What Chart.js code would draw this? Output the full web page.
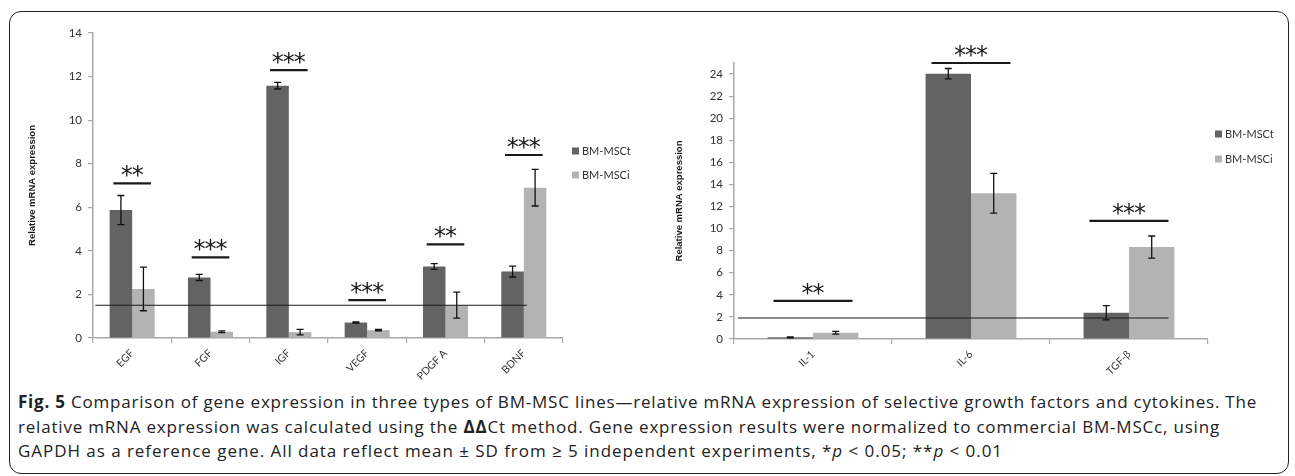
<!DOCTYPE html>
<html>
<head>
<meta charset="utf-8">
<script src="https://cdn.jsdelivr.net/npm/chart.js@4"></script>
<style>
  html, body { margin:0; padding:0; background:#fff; }
  body { width:1295px; height:476px; position:relative; overflow:hidden; }
  #frame { position:absolute; left:9px; top:11px; width:1280px; height:463px; border:1.5px solid #222; border-radius:12px; box-sizing:border-box; }
  #c1 { position:absolute; left:0; top:0; }
  #c2 { position:absolute; left:650px; top:0; }
  #caption { position:absolute; left:18px; top:390px; font-family:'Open Sans', sans-serif; font-size:17px; color:#222; line-height:24.5px; white-space:nowrap; }
  #caption div { white-space:nowrap; display:block; }
  #caption span.ln { display:inline-block; }
</style>
</head>
<body>
<div id="frame"></div>
<canvas id="c1" width="650" height="380"></canvas>
<canvas id="c2" width="645" height="380"></canvas>
<div id="caption">
  <div><span class="ln" data-w="1239"><b>Fig. 5</b> Comparison of gene expression in three types of BM-MSC lines—relative mRNA expression of selective growth factors and cytokines. The</span></div>
  <div><span class="ln" data-w="1202"><span>relative mRNA expression was calculated using the <b>ΔΔ</b>Ct method. Gene expression results were normalized to commercial BM-MSCc, using</span></span></div>
  <div><span class="ln" data-w="985">GAPDH as a reference gene. All data reflect mean ± SD from ≥ 5 independent experiments, *<i>p</i> &lt; 0.05; **<i>p</i> &lt; 0.01</span></div>
</div>
<script>
// ---------- data ----------
const seriesNames = ['BM-MSCt', 'BM-MSCi'];

const growthFactors = ['EGF', 'FGF', 'IGF', 'VEGF', 'PDGF A', 'BDNF'];
const gfMSCt   = [5.87, 2.78, 11.58, 0.71, 3.28, 3.05];
const gfMSCtSD = [0.67, 0.14, 0.15, 0.03, 0.13, 0.25];
const gfMSCi   = [2.25, 0.29, 0.27, 0.36, 1.51, 6.90];
const gfMSCiSD = [1.00, 0.04, 0.13, 0.03, 0.60, 0.84];
const gfSigMarks  = ['**', '***', '***', '***', '**', '***'];
const gfSigLevels = [7.1, 3.7, 12.3, 1.74, 4.3, 8.4];
const gfRefValue = 1.5;
const gfTicks = [0, 2, 4, 6, 8, 10, 12, 14];

const cytokines = ['IL-1', 'IL-6', 'TGF-β'];
const cyMSCt   = [0.15, 24.03, 2.38];
const cyMSCtSD = [0.04, 0.47, 0.65];
const cyMSCi   = [0.57, 13.2, 8.33];
const cyMSCiSD = [0.12, 1.8, 1.0];
const cySigMarks  = ['**', '***', '***'];
const cySigLevels = [3.45, 25.0, 10.7];
const cyRefValue = 1.9;
const cyTicks = [0, 2, 4, 6, 8, 10, 12, 14, 16, 18, 20, 22, 24];

// ---------- caption fit (styling only) ----------
document.querySelectorAll('#caption .ln').forEach(el => {
  const target = +el.dataset.w;
  const w = el.getBoundingClientRect().width;
  const n = el.textContent.length;
  el.style.letterSpacing = ((target - w) / n).toFixed(3) + 'px';
});

// ---------- style ----------
const DARK = '#636363';
const LIGHT = '#b3b3b3';
const AXIS = '#a8a8a8';
const TXT = '#333333';

const extrasPlugin = {
  id: 'extras',
  afterDatasetsDraw(chart, args, o) {
    const { ctx, scales: { x, y }, chartArea } = chart;
    ctx.save();
    chart.data.datasets.forEach((ds, di) => {
      const meta = chart.getDatasetMeta(di);
      meta.data.forEach((bar, i) => {
        const v = ds.data[i], sd = ds.errors[i];
        const yt = y.getPixelForValue(v + sd), yb = y.getPixelForValue(Math.max(0, v - sd));
        ctx.strokeStyle = '#111'; ctx.lineWidth = 1.3;
        ctx.beginPath();
        ctx.moveTo(bar.x, yt); ctx.lineTo(bar.x, yb);
        ctx.moveTo(bar.x - 3.5, yt); ctx.lineTo(bar.x + 3.5, yt);
        ctx.moveTo(bar.x - 3.5, yb); ctx.lineTo(bar.x + 3.5, yb);
        ctx.stroke();
      });
    });
    const catW = x.getPixelForValue(1) - x.getPixelForValue(0);
    const ry = y.getPixelForValue(o.refValue);
    ctx.strokeStyle = '#1a1a1a'; ctx.lineWidth = 1.1;
    ctx.beginPath();
    ctx.moveTo(x.getPixelForValue(0) + o.refFrom * catW, ry);
    ctx.lineTo(x.getPixelForValue(chart.data.labels.length - 1) + o.refTo * catW, ry);
    ctx.stroke();
    ctx.fillStyle = '#1a1a1a';
    ctx.font = o.starFont;
    const m = ctx.measureText('*');
    o.sigLevels.forEach((lvl, i) => {
      const cx = x.getPixelForValue(i);
      const ly = y.getPixelForValue(lvl);
      const hw = catW * o.sigWidth / 2;
      ctx.lineWidth = 2.2;
      ctx.beginPath(); ctx.moveTo(cx - hw, ly); ctx.lineTo(cx + hw, ly); ctx.stroke();
      const n = o.sigMarks[i].length;
      const centerY = ly - o.starGap;
      const baseY = centerY + (m.actualBoundingBoxAscent - m.actualBoundingBoxDescent) / 2;
      ctx.textAlign = 'center'; ctx.textBaseline = 'alphabetic';
      for (let k = 0; k < n; k++) {
        ctx.fillText('*', cx + (k - (n - 1) / 2) * o.starSpacing, baseY);
      }
    });
    ctx.font = '11px Lato';
    ctx.textAlign = 'left'; ctx.textBaseline = 'middle';
    chart.data.datasets.forEach((ds, di) => {
      const lx = chartArea.right + o.legendDX;
      const ly = o.legendY[di];
      ctx.fillStyle = ds.backgroundColor;
      ctx.fillRect(lx, ly - 3.5, 7, 7);
      ctx.fillStyle = TXT;
      ctx.fillText(ds.label, lx + 10, ly + 0.5);
    });
    ctx.restore();
  }
};

function makeChart(id, cfg) {
  return new Chart(document.getElementById(id), {
    type: 'bar',
    data: {
      labels: cfg.labels,
      datasets: [
        { label: seriesNames[0], data: cfg.t, errors: cfg.tSD, backgroundColor: DARK, categoryPercentage: 0.575, barPercentage: 1.0 },
        { label: seriesNames[1], data: cfg.i, errors: cfg.iSD, backgroundColor: LIGHT, categoryPercentage: 0.575, barPercentage: 1.0 }
      ]
    },
    options: {
      responsive: false,
      animation: false,
      layout: { padding: { top: cfg.padTop, right: cfg.padRight, left: 0, bottom: 0 } },
      plugins: {
        legend: { display: false },
        tooltip: { enabled: false },
        extras: {
          refValue: cfg.ref, refFrom: cfg.refFrom, refTo: cfg.refTo,
          sigLevels: cfg.sigLevels, sigMarks: cfg.sigMarks, sigWidth: cfg.sigWidth,
          starFont: '24px "DejaVu Sans"', starGap: 12, starSpacing: 11,
          legendDX: cfg.legendDX, legendY: cfg.legendY
        }
      },
      scales: {
        x: {
          grid: { display: true, drawOnChartArea: false, tickLength: 5, color: AXIS, lineWidth: 1.2, offset: true },
          border: { color: AXIS, width: 1.5 },
          ticks: { minRotation: 45, maxRotation: 45, autoSkip: false, font: { family: 'Lato', size: 10.5 }, color: TXT, padding: 4 },
          afterFit: s => { s.height = cfg.xH; }
        },
        y: {
          min: 0, max: cfg.max,
          grid: { display: true, drawOnChartArea: false, tickLength: 5, color: AXIS, lineWidth: 1.2 },
          border: { color: AXIS, width: 1.5 },
          ticks: { font: { family: 'Lato', size: 11.5 }, color: TXT, padding: 6 },
          afterBuildTicks: s => { s.ticks = cfg.ticks.map(v => ({ value: v })); },
          title: { display: true, text: 'Relative mRNA expression', font: { family: '"Liberation Sans"', size: 9.5, weight: 'bold' }, color: '#1a1a1a', padding: { top: cfg.titlePad, bottom: 0 } },
          afterFit: s => { s.width = cfg.yW; }
        }
      }
    },
    plugins: [extrasPlugin]
  });
}

makeChart('c1', {
  labels: growthFactors, t: gfMSCt, tSD: gfMSCtSD, i: gfMSCi, iSD: gfMSCiSD,
  ref: gfRefValue, refFrom: -0.47, refTo: 0.04,
  sigLevels: gfSigLevels, sigMarks: gfSigMarks, sigWidth: 0.48,
  max: 14, ticks: gfTicks, padTop: 33, padRight: 87, xH: 42, yW: 93, titlePad: 27,
  legendDX: 9, legendY: [151, 175]
});

makeChart('c2', {
  labels: cytokines, t: cyMSCt, tSD: cyMSCtSD, i: cyMSCi, iSD: cyMSCiSD,
  ref: cyRefValue, refFrom: -0.475, refTo: 0.25,
  sigLevels: cySigLevels, sigMarks: cySigMarks, sigWidth: 0.5,
  max: 25, ticks: cyTicks, padTop: 63, padRight: 87, xH: 41, yW: 84, titlePad: 24,
  legendDX: 7, legendY: [134, 159]
});
</script>
</body>
</html>
